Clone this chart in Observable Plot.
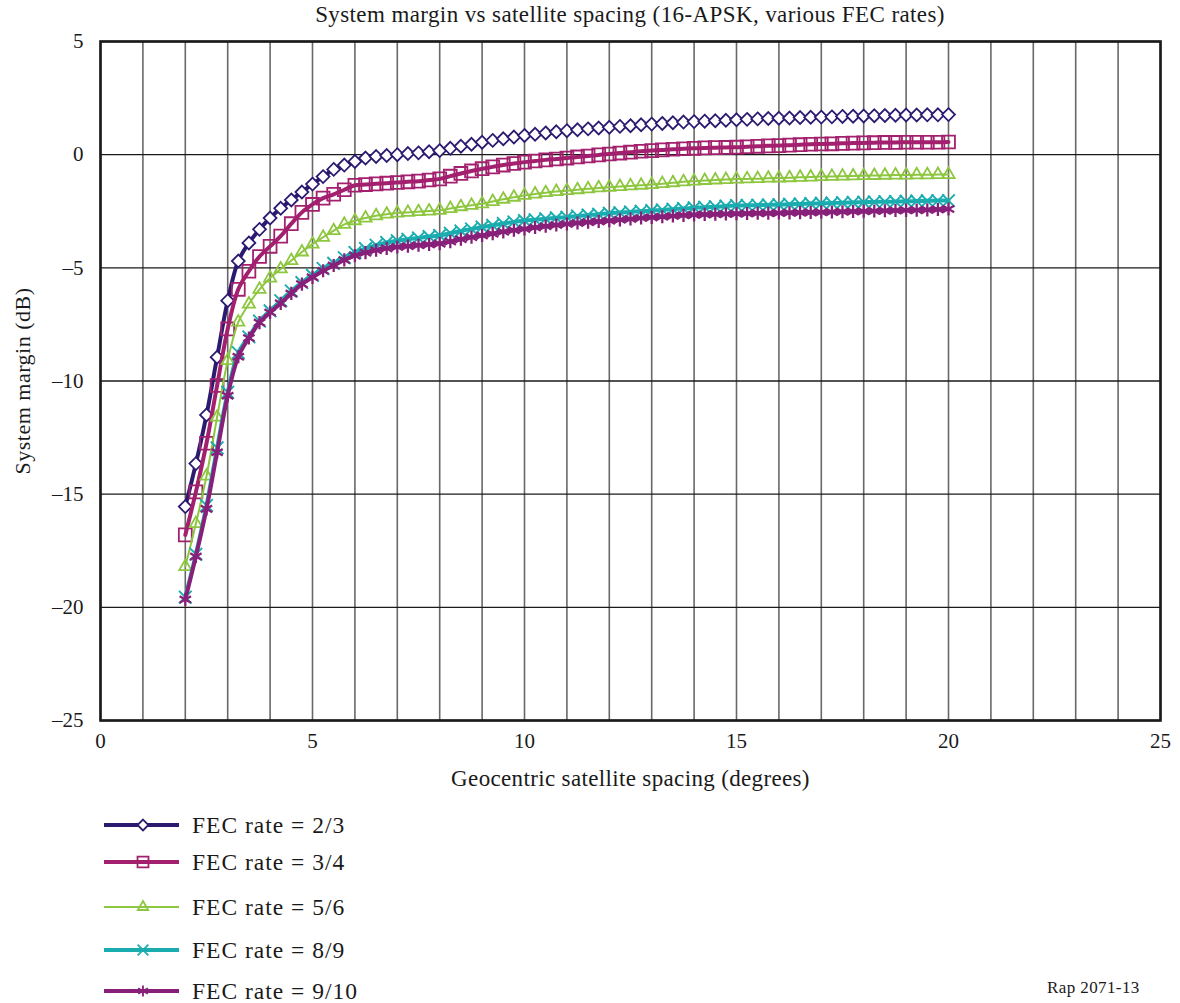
<!DOCTYPE html>
<html>
<head>
<meta charset="utf-8">
<script src="https://cdn.jsdelivr.net/npm/d3@7"></script>
<script src="https://cdn.jsdelivr.net/npm/@observablehq/plot@0.6"></script>
<style>
  html, body { margin: 0; padding: 0; background: white; }
  #wrap { position: relative; width: 1180px; height: 1003px; font-family: "Liberation Serif", "Times New Roman", serif; color: #1a1a1a; }
  #title { position: absolute; left: 100px; width: 1060px; top: 2px; text-align: center; font-size: 23px; letter-spacing: 0.4px; }
  #chart { position: absolute; left: 0; top: 0; }
  #legend { position: absolute; left: 0; top: 800px; }
  #code { position: absolute; left: 1047px; top: 978px; font-size: 17px; letter-spacing: 0.4px; }
  #chart svg g[aria-label="x-axis label"] text { font-size: 23px; letter-spacing: 0.35px; }
  #chart svg g[aria-label="y-axis label"] text { font-size: 22px; letter-spacing: 0.5px; }
  #legend text { letter-spacing: 1px; }
</style>
</head>
<body>
<div id="wrap">
  <div id="chart"></div>
  <div id="title">System margin vs satellite spacing (16-APSK, various FEC rates)</div>
  <svg id="legend" width="400" height="203"></svg>
  <div id="code">Rap 2071-13</div>
</div>
<script>
// Geocentric satellite spacing (degrees)
const spacing = [
  2,2.25,2.5,2.75, 3,3.25,3.5,3.75, 4,4.25,4.5,4.75, 5,5.25,5.5,5.75,
  6,6.25,6.5,6.75, 7,7.25,7.5,7.75, 8,8.25,8.5,8.75, 9,9.25,9.5,9.75,
  10,10.25,10.5,10.75, 11,11.25,11.5,11.75, 12,12.25,12.5,12.75,
  13,13.25,13.5,13.75, 14,14.25,14.5,14.75, 15,15.25,15.5,15.75,
  16,16.25,16.5,16.75, 17,17.25,17.5,17.75, 18,18.25,18.5,18.75,
  19,19.25,19.5,19.75, 20
];
// System margin (dB), one array per FEC rate
const fec23 = [
  -15.55,-13.65,-11.5,-8.95, -6.45,-4.7,-3.9,-3.3, -2.8,-2.37,-2.0,-1.65,
  -1.3,-0.97,-0.65,-0.46, -0.3,-0.15,-0.08,-0.04, 0.0,0.05,0.08,0.13,
  0.18,0.28,0.37,0.46, 0.55,0.63,0.7,0.78, 0.85,0.9,0.96,1.01,
  1.06,1.1,1.14,1.18, 1.21,1.25,1.28,1.32, 1.35,1.38,1.41,1.44,
  1.46,1.48,1.5,1.52, 1.54,1.56,1.58,1.6, 1.61,1.62,1.64,1.65,
  1.66,1.67,1.69,1.7, 1.71,1.72,1.73,1.74, 1.75,1.75,1.76,1.76, 1.77
];
const fec34 = [
  -16.8,-14.9,-12.75,-10.2, -7.7,-5.95,-5.15,-4.5, -4.05,-3.6,-3.05,-2.55,
  -2.2,-1.92,-1.75,-1.55, -1.35,-1.32,-1.29,-1.26, -1.23,-1.2,-1.17,-1.12,
  -1.07,-0.95,-0.83,-0.72, -0.62,-0.54,-0.46,-0.39, -0.33,-0.28,-0.23,-0.19,
  -0.15,-0.1,-0.06,-0.01, 0.03,0.07,0.11,0.15, 0.18,0.21,0.24,0.26,
  0.28,0.3,0.31,0.32, 0.33,0.35,0.37,0.39, 0.4,0.42,0.44,0.46,
  0.47,0.48,0.5,0.51, 0.52,0.53,0.54,0.54, 0.55,0.55,0.55,0.55, 0.56
];
const fec56 = [
  -18.2,-16.3,-14.2,-11.6, -9.1,-7.4,-6.6,-5.95, -5.45,-5.05,-4.68,-4.3,
  -3.95,-3.65,-3.36,-3.08, -2.92,-2.8,-2.7,-2.63, -2.58,-2.55,-2.52,-2.49,
  -2.46,-2.38,-2.3,-2.24, -2.17,-2.07,-1.97,-1.88, -1.8,-1.74,-1.68,-1.63,
  -1.59,-1.55,-1.51,-1.47, -1.44,-1.41,-1.38,-1.35, -1.32,-1.28,-1.24,-1.2,
  -1.17,-1.14,-1.12,-1.1, -1.08,-1.07,-1.06,-1.04, -1.03,-1.02,-1.0,-0.99,
  -0.97,-0.96,-0.95,-0.94, -0.93,-0.92,-0.91,-0.9, -0.9,-0.89,-0.89,-0.88, -0.88
];
const fec89 = [
  -19.55,-17.65,-15.5,-12.95, -10.5,-8.75,-8.05,-7.35, -6.9,-6.45,-6.02,-5.65,
  -5.33,-5.03,-4.8,-4.55, -4.32,-4.15,-4.0,-3.88, -3.8,-3.74,-3.68,-3.62,
  -3.57,-3.47,-3.37,-3.28, -3.2,-3.12,-3.04,-2.97, -2.91,-2.87,-2.83,-2.79,
  -2.76,-2.71,-2.67,-2.63, -2.59,-2.56,-2.53,-2.5, -2.47,-2.44,-2.41,-2.38,
  -2.35,-2.32,-2.3,-2.27, -2.25,-2.24,-2.23,-2.22, -2.21,-2.19,-2.18,-2.16,
  -2.15,-2.14,-2.12,-2.11, -2.1,-2.09,-2.08,-2.07, -2.06,-2.05,-2.04,-2.03, -2.03
];
const fec910 = [
  -19.65,-17.75,-15.65,-13.15, -10.65,-8.93,-8.1,-7.42, -6.97,-6.57,-6.13,-5.72,
  -5.42,-5.13,-4.9,-4.65, -4.46,-4.33,-4.22,-4.14, -4.08,-4.04,-4.0,-3.97,
  -3.93,-3.84,-3.74,-3.65, -3.57,-3.49,-3.41,-3.34, -3.28,-3.22,-3.16,-3.11,
  -3.06,-3.02,-2.98,-2.95, -2.92,-2.88,-2.84,-2.8, -2.77,-2.74,-2.71,-2.68,
  -2.66,-2.64,-2.63,-2.62, -2.61,-2.6,-2.59,-2.59, -2.58,-2.57,-2.56,-2.55,
  -2.54,-2.53,-2.52,-2.51, -2.5,-2.49,-2.48,-2.47, -2.46,-2.45,-2.44,-2.42, -2.4
];

const seriesNames = ["FEC rate = 2/3", "FEC rate = 3/4", "FEC rate = 5/6", "FEC rate = 8/9", "FEC rate = 9/10"];
const seriesValues = [fec23, fec34, fec56, fec89, fec910];
const seriesColors = ["#2c1a70", "#a3206f", "#8dc63f", "#1aadb0", "#88207a"];
const seriesSymbols = ["diamond2", "square2", "triangle2", "times", "asterisk"];
const seriesLineWidths = [4, 4, 2, 4, 4];
const seriesDotR = [5.8, 8.2, 5.8, 5.8, 6.2];
const seriesDotStroke = [1.8, 1.8, 1.8, 1.9, 2.3];
const seriesFill = ["white", "none", "none", "none", "none"];

const xTicks = [0, 5, 10, 15, 20, 25];
const yTicks = [-25, -20, -15, -10, -5, 0, 5];
const xGrid = [0,1,2,3,4,5,6,7,8,9,10,11,12,13,14,15,16,17,18,19,20,21,22,23,24,25];

const minus = v => (v < 0 ? "\u2013" + Math.abs(v) : String(v));

const marks = [
  Plot.ruleX(xGrid, {stroke: "#6b6864", strokeWidth: 1.6}),
  Plot.ruleY(yTicks, {stroke: "#1a1a1a", strokeWidth: 1.4})
];
seriesNames.forEach((name, i) => {
  const rows = spacing.map((s, j) => ({s, m: seriesValues[i][j]}));
  marks.push(Plot.line(rows, {x: "s", y: "m", stroke: seriesColors[i], strokeWidth: seriesLineWidths[i], curve: "catmull-rom"}));
  marks.push(Plot.dot(rows, {x: "s", y: "m", symbol: seriesSymbols[i], r: seriesDotR[i], stroke: seriesColors[i], fill: seriesFill[i], strokeWidth: seriesDotStroke[i]}));
});
marks.push(Plot.frame({stroke: "#1a1a1a", strokeWidth: 2.6}));
marks.push(Plot.axisX({ticks: xTicks, tickSize: 0, tickPadding: 13, tickFormat: minus,
  label: "Geocentric satellite spacing (degrees)", labelAnchor: "center", labelArrow: "none", labelOffset: 65}));
marks.push(Plot.axisY({ticks: yTicks, tickSize: 0, tickPadding: 17, tickFormat: minus,
  label: "System margin (dB)", labelAnchor: "center", labelArrow: "none", labelOffset: 86}));

const chart = Plot.plot({
  width: 1180, height: 800,
  marginLeft: 100, marginRight: 20, marginTop: 41, marginBottom: 80,
  x: {domain: [0, 25]},
  y: {domain: [-25, 5]},
  style: {fontFamily: "'Liberation Serif', 'Times New Roman', serif", fontSize: "21px", background: "white", color: "#1a1a1a", overflow: "visible"},
  marks
});
document.getElementById("chart").appendChild(chart);

// Legend
const leg = d3.select("#legend");
const rowY = [25, 62, 107, 150, 191];
const symMap = {diamond2: d3.symbolDiamond2, square2: d3.symbolSquare2, triangle2: d3.symbolTriangle2, times: d3.symbolTimes, asterisk: d3.symbolAsterisk};
seriesNames.forEach((name, i) => {
  const g = leg.append("g").attr("transform", `translate(0,${rowY[i]})`);
  g.append("line").attr("x1", 104).attr("x2", 179).attr("y1", 0).attr("y2", 0)
    .attr("stroke", seriesColors[i]).attr("stroke-width", seriesLineWidths[i]);
  const r = seriesDotR[i] * 0.85;
  g.append("path").attr("transform", "translate(143,0)")
    .attr("d", d3.symbol(symMap[seriesSymbols[i]], Math.PI * r * r)())
    .attr("fill", seriesFill[i]).attr("stroke", seriesColors[i]).attr("stroke-width", 1.8);
  g.append("text").attr("x", 192).attr("y", 0).attr("dy", "0.35em")
    .attr("font-family", "'Liberation Serif', 'Times New Roman', serif").attr("font-size", 23.5)
    .attr("fill", "#1a1a1a").text(name);
});
</script>
</body>
</html>
